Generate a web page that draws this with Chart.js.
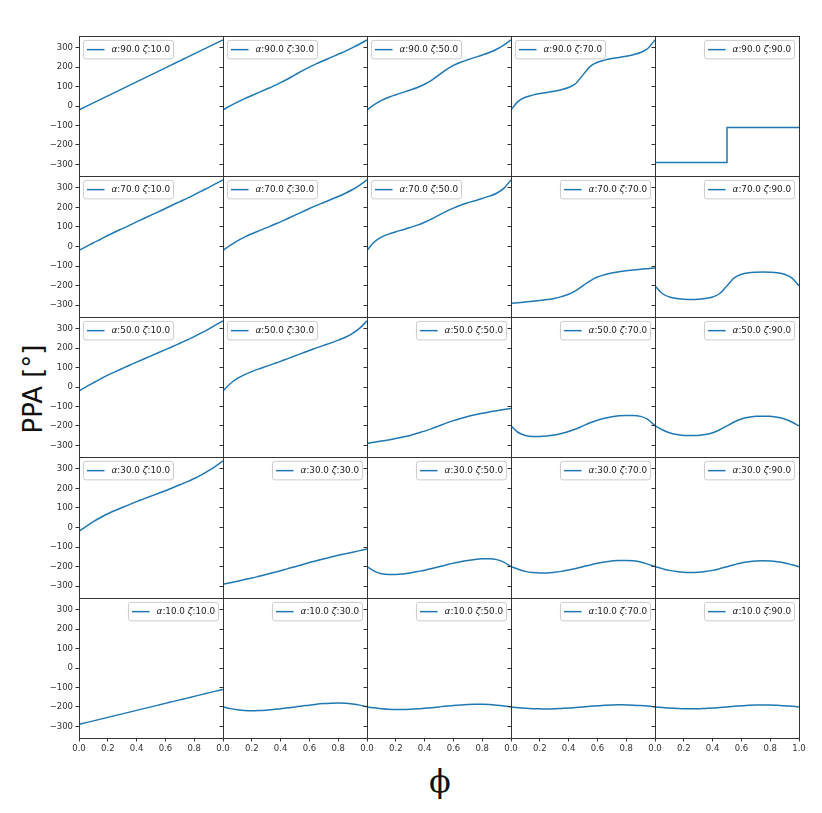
<!DOCTYPE html>
<html>
<head>
<meta charset="utf-8">
<script src="https://cdn.jsdelivr.net/npm/chart.js@4.4.0/dist/chart.umd.min.js"></script>
<style>
  body { margin: 0; background: #fff; width: 822px; height: 813px; position: relative; overflow: hidden; font-family: "DejaVu Sans", sans-serif; }
  canvas { position: absolute; }
  #ylab { position: absolute; left: 33px; top: 389px; transform: translate(-50%, -50%) rotate(-90deg); font-size: 26px; color: #111; white-space: nowrap; }
  #xlab { position: absolute; left: 440px; top: 781px; transform: translate(-50%, -50%); font-family: "DejaVu Serif", serif; font-size: 32px; color: #111; }
</style>
</head>
<body>
<div id="ylab">PPA [°]</div>
<div id="xlab">ϕ</div>
<script>
// rotating phase (fraction of a turn)
const phi = [0, 0.05, 0.1, 0.15, 0.2, 0.25, 0.3, 0.35, 0.4, 0.45, 0.5,
             0.55, 0.6, 0.65, 0.7, 0.75, 0.8, 0.85, 0.9, 0.95, 1];
const phiStep = [0, 0, 0.5, 0.5, 1];

const alphas = [90, 70, 50, 30, 10];
const zetas = [10, 30, 50, 70, 90];

const yTicks = [-300, -200, -100, 0, 100, 200, 300];
const xTicks = [0, 0.2, 0.4, 0.6, 0.8];
const xTicksLast = [0, 0.2, 0.4, 0.6, 0.8, 1.0];

// PPA curves, one per panel (degrees)
const a90z10 = [-20, -2, 16, 34, 52, 70, 88, 106, 124, 142, 160, 178, 196, 214, 232, 250, 268, 286, 304, 322, 340];
const a90z30 = [-20, 1, 20, 38, 54, 70, 86, 102, 120, 139, 160, 181, 200, 218, 234, 250, 266, 282, 300, 319, 340];
const a90z50 = [-20, 7, 29, 45, 58, 70, 82, 95, 112, 133, 160, 187, 209, 225, 238, 250, 262, 275, 292, 313, 340];
const a90z70 = [-20, 24, 45, 56, 64, 70, 76, 84, 95, 116, 160, 204, 225, 236, 244, 250, 256, 264, 275, 296, 340];
const a90z90 = [-200, -290, -290, -110, -110];

const a70z10 = [-20, -1, 19, 37, 56, 74, 91, 108, 126, 143, 160, 177, 194, 212, 229, 246, 264, 283, 301, 321, 340];
const a70z30 = [-20, 6, 29, 48, 65, 80, 95, 111, 126, 143, 160, 177, 194, 210, 225, 240, 255, 272, 291, 314, 340];
const a70z50 = [-20, 23, 48, 63, 75, 86, 97, 109, 124, 141, 160, 179, 196, 211, 223, 234, 245, 257, 272, 297, 340];
const a70z70 = [-290, -287, -284, -280, -276, -271, -265, -256, -244, -225, -200, -175, -156, -144, -135, -129, -124, -120, -116, -113, -110];
const a70z90 = [-200, -240, -258, -266, -269, -270, -269, -266, -258, -240, -200, -160, -142, -134, -131, -130, -131, -134, -142, -160, -200];

const a50z10 = [-20, 1, 22, 42, 61, 78, 95, 112, 128, 144, 160, 176, 192, 208, 225, 242, 259, 278, 298, 319, 340];
const a50z30 = [-20, 17, 44, 64, 79, 93, 106, 119, 132, 146, 160, 174, 188, 201, 214, 227, 241, 256, 276, 303, 340];
const a50z50 = [-290, -284, -278, -272, -265, -257, -249, -238, -227, -214, -200, -186, -173, -162, -152, -143, -135, -128, -122, -116, -110];
const a50z70 = [-200, -234, -249, -254, -254, -252, -247, -239, -229, -216, -200, -184, -171, -161, -153, -148, -146, -146, -151, -166, -200];
const a50z90 = [-200, -220, -235, -244, -249, -250, -249, -244, -235, -220, -200, -180, -165, -156, -151, -150, -151, -156, -165, -180, -200];

const a30z10 = [-20, 6, 30, 51, 70, 87, 102, 117, 132, 146, 160, 174, 188, 203, 218, 233, 250, 269, 290, 314, 340];
const a30z30 = [-290, -282, -274, -266, -258, -249, -240, -230, -221, -210, -200, -190, -179, -170, -160, -151, -142, -134, -126, -118, -110];
const a30z50 = [-200, -223, -236, -240, -240, -237, -232, -225, -218, -209, -200, -191, -182, -175, -168, -163, -160, -160, -164, -177, -200];
const a30z70 = [-200, -213, -224, -230, -232, -232, -229, -224, -217, -209, -200, -191, -183, -176, -171, -168, -168, -170, -176, -187, -200];
const a30z90 = [-200, -210, -219, -225, -229, -230, -229, -225, -219, -210, -200, -190, -181, -175, -171, -170, -171, -175, -181, -190, -200];

const a10z10 = [-290, -281, -272, -263, -254, -245, -236, -227, -218, -209, -200, -191, -182, -173, -164, -155, -146, -137, -128, -119, -110];
const a10z30 = [-200, -209, -215, -219, -220, -219, -217, -214, -209, -205, -200, -195, -191, -186, -183, -181, -180, -181, -185, -191, -200];
const a10z50 = [-200, -205, -209, -212, -213, -213, -212, -210, -207, -204, -200, -196, -193, -190, -188, -187, -187, -188, -191, -195, -200];
const a10z70 = [-200, -204, -207, -209, -210, -211, -210, -208, -206, -203, -200, -197, -194, -192, -190, -189, -190, -191, -193, -196, -200];
const a10z90 = [-200, -203, -206, -208, -210, -210, -210, -208, -206, -203, -200, -197, -194, -192, -190, -190, -190, -192, -194, -197, -200];

const panels = [
  [a90z10, a90z30, a90z50, a90z70, a90z90],
  [a70z10, a70z30, a70z50, a70z70, a70z90],
  [a50z10, a50z30, a50z50, a50z70, a50z90],
  [a30z10, a30z30, a30z50, a30z70, a30z90],
  [a10z10, a10z30, a10z50, a10z70, a10z90]
];

const GRID_L = 79, GRID_T = 36, CELL_W = 144, CELL_H = 140.4;
const PAD_L = 45, PAD_T = 8, PAD_R = 12, PAD_B = 25;
const BLUE = '#1f77b4', INK = '#333';
const FS = 8.5, LFS = 8.8;

function fmtY(v) { return v < 0 ? '\u2212' + Math.abs(v) : String(v); }

const framePlugin = {
  id: 'frame',
  afterDraw(chart) {
    const a = chart.chartArea, ctx = chart.ctx;
    ctx.save();
    ctx.strokeStyle = INK;
    ctx.lineWidth = 1;
    ctx.strokeRect(Math.round(a.left) + 0.5, Math.round(a.top) + 0.5,
                   Math.round(a.right - a.left), Math.round(a.bottom - a.top));
    ctx.restore();
  }
};

const legendPlugin = {
  id: 'panelLegend',
  afterDatasetsDraw(chart, args, opts) {
    const a = chart.chartArea, ctx = chart.ctx;
    const pad = 0.4 * LFS, hl = 2 * LFS, gap = 0.8 * LFS, edge = 0.5 * LFS;
    const parts = [['α', true], [':' + opts.alpha.toFixed(1) + ' ', false],
                   ['ζ', true], [':' + opts.zeta.toFixed(1), false]];
    const fontOf = it => (it ? 'italic ' : '') + LFS + 'px "DejaVu Sans"';
    ctx.save();
    let tw = 0;
    const widths = parts.map(([t, it]) => {
      ctx.font = fontOf(it);
      const w = ctx.measureText(t).width;
      tw += w;
      return w;
    });
    const w = pad + hl + gap + tw + pad, h = 2 * pad + LFS * 1.3;
    const x0 = opts.right ? a.right - edge - w : a.left + edge;
    const y0 = a.top + edge;
    ctx.beginPath();
    if (ctx.roundRect) ctx.roundRect(x0, y0, w, h, 2.5); else ctx.rect(x0, y0, w, h);
    ctx.fillStyle = 'rgba(255,255,255,0.8)';
    ctx.fill();
    ctx.strokeStyle = '#cccccc';
    ctx.lineWidth = 1;
    ctx.stroke();
    const cy = y0 + h / 2;
    ctx.beginPath();
    ctx.moveTo(x0 + pad, cy);
    ctx.lineTo(x0 + pad + hl, cy);
    ctx.strokeStyle = BLUE;
    ctx.lineWidth = 1.5;
    ctx.stroke();
    let tx = x0 + pad + hl + gap;
    ctx.fillStyle = '#222';
    ctx.textBaseline = 'middle';
    parts.forEach(([t, it], i) => {
      ctx.font = fontOf(it);
      ctx.fillText(t, tx, cy);
      tx += widths[i];
    });
    ctx.restore();
  }
};

for (let r = 0; r < 5; r++) {
  for (let c = 0; c < 5; c++) {
    const plotL = GRID_L + c * CELL_W;
    const plotT = Math.round(GRID_T + r * CELL_H);
    const plotB = Math.round(GRID_T + (r + 1) * CELL_H);
    const ph = plotB - plotT;

    const cv = document.createElement('canvas');
    const cw = CELL_W + PAD_L + PAD_R, chh = ph + PAD_T + PAD_B;
    cv.width = cw; cv.height = chh;
    cv.style.left = (plotL - PAD_L) + 'px';
    cv.style.top = (plotT - PAD_T) + 'px';
    cv.style.width = cw + 'px';
    cv.style.height = chh + 'px';
    document.body.appendChild(cv);

    const isStep = (r === 0 && c === 4);
    const xs = isStep ? phiStep : phi;
    const ys = panels[r][c];

    new Chart(cv, {
      type: 'line',
      data: {
        datasets: [{
          data: xs.map((x, i) => ({ x: x, y: ys[i] })),
          borderColor: BLUE,
          borderWidth: 1.5,
          pointRadius: 0,
          fill: false,
          tension: 0,
          cubicInterpolationMode: isStep ? 'default' : 'monotone'
        }]
      },
      options: {
        responsive: false,
        animation: false,
        events: [],
        layout: { padding: { left: 0, top: PAD_T, right: PAD_R, bottom: 0 } },
        plugins: {
          legend: { display: false },
          tooltip: { enabled: false },
          panelLegend: { alpha: alphas[r], zeta: zetas[c], right: zetas[c] >= alphas[r] }
        },
        scales: {
          x: {
            type: 'linear', min: 0, max: 1,
            afterFit: s => { s.height = PAD_B; },
            afterBuildTicks: s => { s.ticks = (c === 4 ? xTicksLast : xTicks).map(v => ({ value: v })); },
            ticks: {
              display: r === 4, color: INK, padding: 2.5, maxRotation: 0, autoSkip: false,
              font: { family: 'DejaVu Sans', size: FS },
              callback: v => Number(v).toFixed(1)
            },
            grid: { display: r === 4, drawOnChartArea: false, tickLength: 3.5, color: INK },
            border: { display: false }
          },
          y: {
            type: 'linear', min: -360, max: 360,
            afterFit: s => { s.width = PAD_L; },
            afterBuildTicks: s => { s.ticks = yTicks.map(v => ({ value: v })); },
            ticks: {
              display: c === 0, color: INK, padding: 2.5, autoSkip: false,
              font: { family: 'DejaVu Sans', size: FS },
              callback: v => fmtY(v)
            },
            grid: { drawOnChartArea: false, tickLength: 3.5, color: INK },
            border: { display: false }
          }
        }
      },
      plugins: [legendPlugin, framePlugin]
    });
  }
}
</script>
</body>
</html>
